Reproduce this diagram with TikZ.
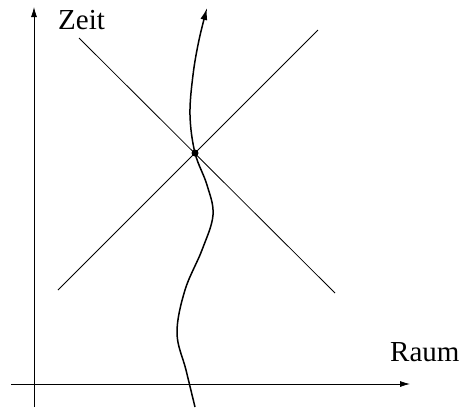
\documentclass[tikz,border=0pt]{standalone}
\usepackage{fontspec}
\setmainfont{Liberation Serif}
\usetikzlibrary{arrows.meta}

\begin{document}
\begin{tikzpicture}[x=1pt,y=-1pt,>={Latex[length=10pt,width=6pt]},
  axis/.style={->,line width=0.8pt},
  cone/.style={line width=0.8pt},
  world/.style={-{Latex[length=12pt,width=7pt]},line width=1.5pt},
  lbl/.style={inner sep=0pt,anchor=base west,font=\fontsize{29}{34}\selectfont}]
\useasboundingbox (0,0) rectangle (464,410);
\coordinate (t0) at (34,407);
\coordinate (t1) at (34,7);
\coordinate (x0) at (11,384);
\coordinate (x1) at (410,384);
\coordinate (c1) at (58,290);
\coordinate (c2) at (318,30);
\coordinate (c3) at (79,38);
\coordinate (c4) at (335,293);
\node (ev) [circle,fill,inner sep=0pt,minimum size=7pt] at (195,153) {};
\node (zeit) [lbl] at (58,29.5) {Zeit};
\node (raum) [lbl] at (390,361) {Raum};
\draw[axis] (t0) -- (t1);
\draw[axis] (x0) -- (x1);
\draw[cone] (c1) -- (c2);
\draw[cone] (c3) -- (c4);
\draw[world] plot[smooth,tension=0.6] coordinates {(195,407) (186,370) (177,333) (185,290) (202,250) (213,215) (207,185) (ev.center) (190,115) (193,75) (199,40) (207,8)};
\end{tikzpicture}
\end{document}
